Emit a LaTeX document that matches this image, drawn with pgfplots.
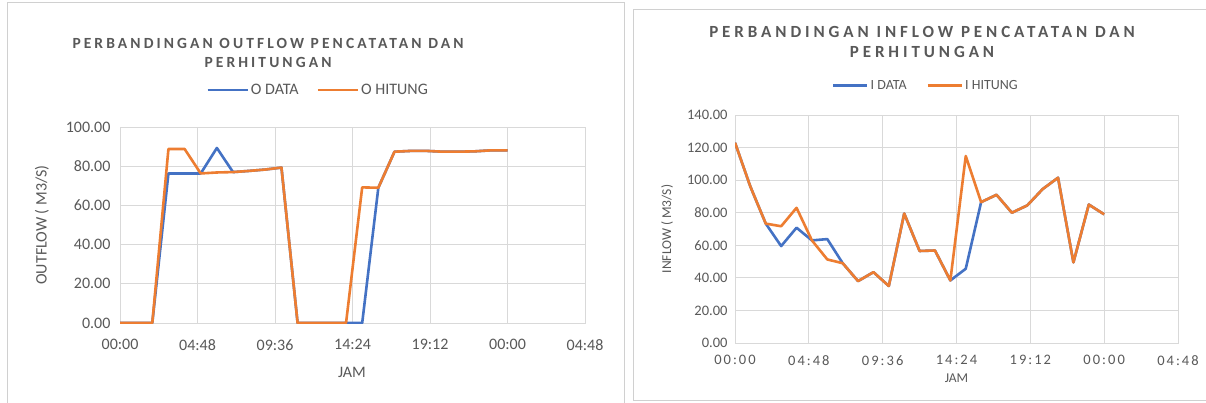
\documentclass[border=0pt]{standalone}
\usepackage{pgfplots}
\pgfplotsset{compat=1.18}
\usepackage{fontspec}
\setmainfont{Carlito}
\newfontfamily\titlefont[LetterSpace=20]{Carlito}
\newfontfamily\titlefontb[LetterSpace=23]{Carlito}
\newfontfamily\spacedfont[LetterSpace=14]{Carlito}
\definecolor{cblue}{HTML}{4472C4}
\definecolor{corange}{HTML}{ED7D31}
\definecolor{cgrid}{HTML}{D9D9D9}
\definecolor{ctext}{HTML}{595959}
\definecolor{cframe}{HTML}{D0D0D0}

\pgfplotstableread{
h odata ohitung
0 0 0
1 0 0
2 0 0
3 76.3 88.8
4 76.3 88.8
5 76.3 76.3
6 89.3 76.8
7 77.0 77.0
8 77.6 77.6
9 78.3 78.3
10 79.3 79.3
11 0 0
12 0 0
13 0 0
14 0 0
15 0 69.2
16 69.0 69.0
17 87.4 87.4
18 87.8 87.8
19 87.8 87.8
20 87.4 87.4
21 87.4 87.4
22 87.6 87.6
23 88.1 88.1
24 88.1 88.1
}\outflow

\pgfplotstableread{
h idata ihitung
0 123 123
1 96 96
2 73.3 73.3
3 59.5 71.7
4 70.8 83.0
5 63.0 63.0
6 63.8 51.3
7 49.0 49.0
8 38.0 38.0
9 43.5 43.5
10 35.0 35.0
11 79.5 79.5
12 56.5 56.5
13 56.8 56.8
14 38.4 38.4
15 45.6 114.8
16 86.5 86.5
17 91.0 91.0
18 80.0 80.0
19 84.5 84.5
20 94.5 94.5
21 101.5 101.5
22 49.5 49.5
23 85.0 85.0
24 79.0 79.0
}\inflow

\pgfplotsset{
  excelstyle/.style={
    scale only axis,
    xmin=0, xmax=28.8,
    xtick={0,4.8,9.6,14.4,19.2,24,28.8},
    xticklabels={00:00,04:48,09:36,14:24,19:12,00:00,04:48},
    grid=major,
    major grid style={cgrid, line width=0.9pt},
    axis line style={cgrid, line width=0.9pt},
    tick style={draw=none},
    ymin=0,
    /pgf/number format/assume math mode=true,
    tick label style={text=ctext},
    label style={text=ctext},
    legend cell align=left,
    legend image code/.code={\draw[##1, line width=2.6pt] (0pt,0pt) -- (40pt,0pt);},
  }
}

\begin{document}
\begin{tikzpicture}
\path[use as bounding box] (0,0) rectangle (1206pt,402pt);
\fill[white] (0,0) rectangle (1206pt,402pt);
\begin{scope}
\clip (0,0) rectangle (1206pt,402pt);
\draw[cframe, line width=1pt] (7pt,399pt) rectangle (624pt,-10pt);
\draw[cframe, line width=1pt] (633pt,392pt) rectangle (1215pt,2pt);
\end{scope}

% Left chart title
\node[text=ctext, font=\titlefont\bfseries\fontsize{15.5}{17}\selectfont] at (268pt,359pt) {PERBANDINGAN OUTFLOW PENCATATAN DAN};
\node[text=ctext, font=\titlefont\bfseries\fontsize{15.5}{17}\selectfont] at (268pt,340pt) {PERHITUNGAN};

% Right chart title
\node[text=ctext, font=\titlefontb\bfseries\fontsize{17}{19}\selectfont] at (922pt,370pt) {PERBANDINGAN INFLOW PENCATATAN DAN};
\node[text=ctext, font=\titlefontb\bfseries\fontsize{17}{19}\selectfont] at (922pt,350pt) {PERHITUNGAN};

\begin{axis}[excelstyle,
  at={(120pt,79pt)}, anchor=south west,
  width=465pt, height=196pt,
  ymax=100, ytick={0,20,...,100},
  yticklabels={0.00,20.00,40.00,60.00,80.00,100.00},
  tick label style={font=\fontsize{16}{18}\selectfont},
  xticklabel style={yshift=-13pt},
  yticklabel style={xshift=-6pt},
  xlabel={JAM}, ylabel={OUTFLOW ( M3/S)},
  label style={font=\fontsize{16}{18}\selectfont},
  xlabel style={at={(axis description cs:0.499,-0.25)}, anchor=center},
  ylabel style={at={(axis description cs:-0.168,0.5)}, anchor=center, rotate=0},
  legend style={at={(axis description cs:0.426,1.189)}, anchor=center, draw=none, fill=none,
    legend columns=2, font=\fontsize{16}{18}\selectfont, text=ctext,
    /tikz/every even column/.append style={column sep=16pt}},
]
\addplot[cblue, line width=2.6pt, line join=round] table[x=h, y=odata] {\outflow};
\addlegendentry{O DATA}
\addplot[corange, line width=2.6pt, line join=round] table[x=h, y=ohitung] {\outflow};
\addlegendentry{O HITUNG}
\end{axis}

\begin{axis}[excelstyle,
  at={(735pt,59pt)}, anchor=south west,
  width=443pt, height=228pt,
  ymax=140, ytick={0,20,...,140},
  yticklabels={0.00,20.00,40.00,60.00,80.00,100.00,120.00,140.00},
  tick label style={font=\fontsize{14.5}{17}\selectfont},
  xticklabel style={font=\spacedfont\fontsize{14.5}{17}\selectfont, yshift=-9pt},
  yticklabel style={xshift=-4pt},
  xlabel={JAM}, ylabel={INFLOW ( M3/S)},
  label style={font=\fontsize{13.5}{15}\selectfont},
  xlabel style={at={(axis description cs:0.50,-0.154)}, anchor=center},
  ylabel style={at={(axis description cs:-0.153,0.5)}, anchor=center, rotate=0},
  legend style={at={(axis description cs:0.431,1.13)}, anchor=center, draw=none, fill=none,
    legend columns=2, font=\fontsize{14}{16}\selectfont, text=ctext,
    /tikz/every even column/.append style={column sep=18pt}},
  legend image code/.code={\draw[#1, line width=2.6pt] (0pt,0pt) -- (34pt,0pt);},
]
\addplot[cblue, line width=2.6pt, line join=round] table[x=h, y=idata] {\inflow};
\addlegendentry{I DATA}
\addplot[corange, line width=2.6pt, line join=round] table[x=h, y=ihitung] {\inflow};
\addlegendentry{I HITUNG}
\end{axis}
\end{tikzpicture}
\end{document}
